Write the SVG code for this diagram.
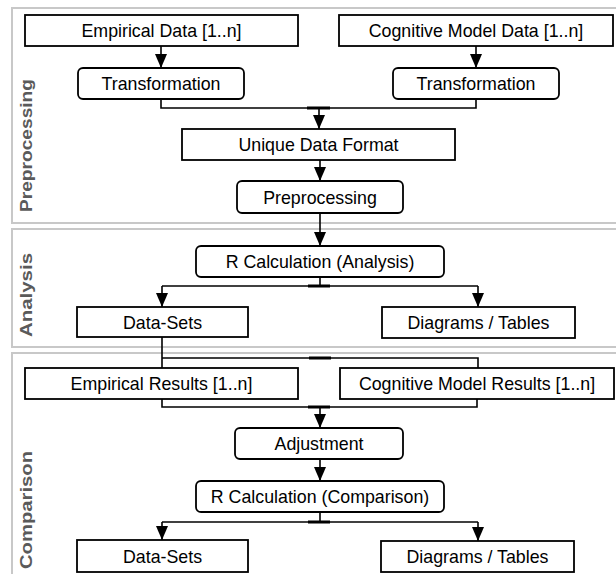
<svg xmlns="http://www.w3.org/2000/svg" width="616" height="574" viewBox="0 0 616 574">
<style>
.panel{fill:none;stroke:#c8c8c8;stroke-width:2}
.box{fill:#fff;stroke:#000;stroke-width:1.8}
.t{font-family:"Liberation Sans",Arial,sans-serif;font-size:17.8px;fill:#000;text-anchor:middle}
.sec{font-family:"Liberation Sans",Arial,sans-serif;font-size:17px;font-weight:bold;fill:#5a5a5a;text-anchor:middle}
.ln{fill:none;stroke:#000;stroke-width:1.6}
.ar{fill:none;stroke:#000;stroke-width:1.6;marker-end:url(#ah)}
.bar{fill:#000}
</style>
<defs>
<marker id="ah" markerUnits="userSpaceOnUse" markerWidth="15" markerHeight="13" refX="14" refY="6" orient="auto">
<path d="M0,0 L14,6 L0,12 z" fill="#000"/>
</marker>
</defs>
<rect width="616" height="574" fill="#fff"/>
<g id="panels">
<rect class="panel" x="12" y="8" width="620" height="215"/>
<rect class="panel" x="12" y="229" width="620" height="118"/>
<rect class="panel" x="12" y="353" width="620" height="240"/>
<text class="sec" transform="translate(31.5,145.5) rotate(-90)" textLength="133" lengthAdjust="spacingAndGlyphs">Preprocessing</text>
<text class="sec" transform="translate(31.5,295) rotate(-90)" textLength="84" lengthAdjust="spacingAndGlyphs">Analysis</text>
<text class="sec" transform="translate(31.5,510) rotate(-90)" textLength="118" lengthAdjust="spacingAndGlyphs">Comparison</text>
</g>
<g id="connectors">
<line class="ar" x1="161" y1="46" x2="161" y2="68"/>
<line class="ar" x1="476" y1="46" x2="476" y2="68"/>
<polyline class="ln" points="161,99 161,108 476,108 476,99"/>
<rect class="bar" x="307" y="106.5" width="23" height="3"/>
<line class="ar" x1="319" y1="108" x2="319" y2="129"/>
<line class="ar" x1="320" y1="160" x2="320" y2="181"/>
<line class="ar" x1="320" y1="213" x2="320" y2="246"/>
<line class="ln" x1="320" y1="277" x2="320" y2="286"/>
<polyline class="ln" points="162,286 478,286"/>
<rect class="bar" x="308" y="284.5" width="22" height="3"/>
<line class="ar" x1="162" y1="286" x2="162" y2="307"/>
<line class="ar" x1="478" y1="286" x2="478" y2="307"/>
<polyline class="ln" points="162,337 162,368"/>
<polyline class="ln" points="162,358 478,358 478,368"/>
<rect class="bar" x="309" y="356.5" width="22" height="3"/>
<polyline class="ln" points="162,399 162,407 477,407 477,399"/>
<rect class="bar" x="308" y="405.5" width="22" height="3"/>
<line class="ar" x1="320" y1="407" x2="320" y2="428"/>
<line class="ar" x1="320" y1="459" x2="320" y2="481"/>
<line class="ln" x1="320" y1="512" x2="320" y2="522"/>
<polyline class="ln" points="162,522 478,522"/>
<rect class="bar" x="308" y="520.5" width="22" height="3"/>
<line class="ar" x1="162" y1="522" x2="162" y2="540"/>
<line class="ar" x1="478" y1="522" x2="478" y2="541"/>
</g>
<g id="n-empirical-data"><rect class="box" x="25" y="15" width="273" height="31"/><text class="t" x="161.5" y="37">Empirical Data [1..n]</text></g>
<g id="n-cognitive-data"><rect class="box" x="339" y="15" width="274" height="31"/><text class="t" x="476" y="37">Cognitive Model Data [1..n]</text></g>
<g id="n-transform-l"><rect class="box" x="78" y="68" width="166" height="31" rx="5"/><text class="t" x="161" y="90">Transformation</text></g>
<g id="n-transform-r"><rect class="box" x="393" y="68" width="166" height="31" rx="5"/><text class="t" x="476" y="90">Transformation</text></g>
<g id="n-unique"><rect class="box" x="182" y="129" width="273" height="31"/><text class="t" x="318.5" y="151">Unique Data Format</text></g>
<g id="n-preprocessing"><rect class="box" x="237" y="181" width="166" height="32" rx="5"/><text class="t" x="320" y="203.5">Preprocessing</text></g>
<g id="n-rcalc-a"><rect class="box" x="196" y="246" width="248" height="31" rx="5"/><text class="t" x="320" y="268">R Calculation (Analysis)</text></g>
<g id="n-datasets-a"><rect class="box" x="77" y="307" width="171" height="30"/><text class="t" x="162.5" y="328.5">Data-Sets</text></g>
<g id="n-diagrams-a"><rect class="box" x="382" y="307" width="193" height="31"/><text class="t" x="478.5" y="329">Diagrams / Tables</text></g>
<g id="n-emp-results"><rect class="box" x="25" y="368" width="273" height="31"/><text class="t" x="161.5" y="390">Empirical Results [1..n]</text></g>
<g id="n-cog-results"><rect class="box" x="340" y="368" width="274" height="31"/><text class="t" x="477" y="390">Cognitive Model Results [1..n]</text></g>
<g id="n-adjustment"><rect class="box" x="235" y="428" width="168" height="31" rx="5"/><text class="t" x="319" y="450">Adjustment</text></g>
<g id="n-rcalc-c"><rect class="box" x="196" y="481" width="248" height="31" rx="5"/><text class="t" x="320" y="503">R Calculation (Comparison)</text></g>
<g id="n-datasets-c"><rect class="box" x="77" y="540" width="171" height="32"/><text class="t" x="162.5" y="562.5">Data-Sets</text></g>
<g id="n-diagrams-c"><rect class="box" x="381" y="541" width="193" height="31"/><text class="t" x="477.5" y="563">Diagrams / Tables</text></g>
</svg>
